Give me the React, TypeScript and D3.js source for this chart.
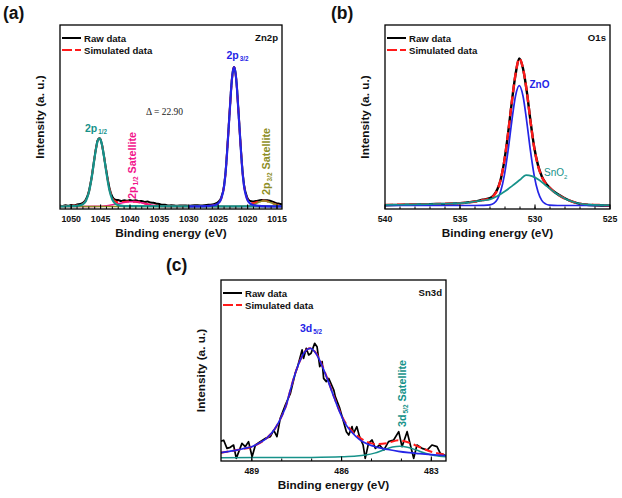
import React from 'react';
import * as d3 from 'd3';

type P = [number, number];

// ---------- Panel (a) Zn2p ----------
const zn2pTicks = [1050, 1045, 1040, 1035, 1030, 1025, 1020, 1015];
const zn2pRaw: P[] = [[1051.9,0.008],[1051.5,0.004],[1051,0.009],[1050.5,0.006],[1050,0.01],[1049.5,0.008],[1049,0.014],[1048.5,0.018],[1048,0.027],[1047.5,0.05],[1047,0.108],[1046.5,0.215],[1046,0.36],[1045.75,0.425],[1045.5,0.474],[1045.2,0.49],[1045,0.48],[1044.75,0.44],[1044.5,0.38],[1044,0.25],[1043.5,0.135],[1043,0.07],[1042.5,0.048],[1042,0.046],[1041.5,0.04],[1041,0.045],[1040.5,0.041],[1040,0.046],[1039.5,0.042],[1039,0.044],[1038.5,0.038],[1038,0.04],[1037.5,0.033],[1037,0.035],[1036.5,0.028],[1036,0.027],[1035.5,0.02],[1035,0.018],[1034.5,0.012],[1034,0.013],[1033.5,0.007],[1033,0.009],[1032,0.006],[1031,0.008],[1030,0.006],[1029,0.009],[1028,0.008],[1027,0.011],[1026,0.014],[1025.5,0.02],[1025,0.032],[1024.5,0.062],[1024,0.15],[1023.75,0.245],[1023.5,0.385],[1023.25,0.55],[1023,0.713],[1022.75,0.87],[1022.5,0.972],[1022.3,1.0],[1022.1,0.97],[1021.85,0.872],[1021.6,0.713],[1021.35,0.55],[1021.1,0.386],[1020.85,0.248],[1020.6,0.155],[1020.1,0.068],[1019.6,0.04],[1019.1,0.036],[1018.6,0.04],[1018.1,0.043],[1017.6,0.046],[1017.1,0.044],[1016.6,0.045],[1016.1,0.04],[1015.6,0.032],[1015.1,0.024],[1014.6,0.02],[1014.15,0.016]];
const zn2pSim: P[] = [[1051.9,0.003],[1051,0.004],[1050,0.005],[1049,0.008],[1048.5,0.012],[1048,0.02],[1047.5,0.043],[1047,0.102],[1046.5,0.212],[1046,0.357],[1045.75,0.422],[1045.5,0.472],[1045.2,0.49],[1045,0.481],[1044.75,0.443],[1044.5,0.384],[1044,0.246],[1043.5,0.127],[1043,0.062],[1042.5,0.036],[1042,0.031],[1041.5,0.032],[1041,0.033],[1040.5,0.035],[1040,0.036],[1039.5,0.035],[1039,0.034],[1038.5,0.031],[1038,0.026],[1037.5,0.021],[1037,0.016],[1036.5,0.012],[1036,0.008],[1035.5,0.005],[1035,0.003],[1034,0.001],[1033,0.001],[1030,0.002],[1028,0.003],[1027,0.004],[1026,0.008],[1025.5,0.012],[1025,0.023],[1024.5,0.056],[1024,0.146],[1023.75,0.241],[1023.5,0.381],[1023.25,0.546],[1023,0.711],[1022.75,0.871],[1022.5,0.971],[1022.3,1.0],[1022.1,0.971],[1021.85,0.871],[1021.6,0.711],[1021.35,0.546],[1021.1,0.382],[1020.85,0.243],[1020.6,0.148],[1020.1,0.058],[1019.6,0.028],[1019.1,0.024],[1018.6,0.029],[1018.1,0.036],[1017.6,0.041],[1017.1,0.042],[1016.6,0.036],[1016.1,0.029],[1015.6,0.021],[1015.1,0.013],[1014.6,0.008],[1014.15,0.005]];
const zn2p12: P[] = [[1051.9,0.001],[1051,0.0015],[1050,0.002],[1049,0.004],[1048.5,0.008],[1048,0.017],[1047.5,0.04],[1047,0.1],[1046.5,0.21],[1046,0.355],[1045.75,0.42],[1045.5,0.47],[1045.2,0.489],[1045,0.479],[1044.75,0.44],[1044.5,0.38],[1044,0.24],[1043.5,0.118],[1043,0.05],[1042.5,0.02],[1042,0.01],[1041,0.003],[1040,0.002],[1030,0.001],[1014.15,0.001]];
const zn2p32: P[] = [[1030,0.001],[1027,0.003],[1026,0.007],[1025.5,0.011],[1025,0.022],[1024.5,0.055],[1024,0.145],[1023.75,0.24],[1023.5,0.38],[1023.25,0.545],[1023,0.71],[1022.75,0.87],[1022.5,0.97],[1022.3,1.0],[1022.1,0.97],[1021.85,0.87],[1021.6,0.71],[1021.35,0.545],[1021.1,0.38],[1020.85,0.24],[1020.6,0.145],[1020.1,0.055],[1019.6,0.022],[1019.1,0.011],[1018.6,0.007],[1017.6,0.003],[1014.15,0.001]];
const zn2p12Sat: P[] = [[1051.9,0],[1046,0.001],[1045,0.002],[1044,0.005],[1043,0.012],[1042,0.02],[1041,0.029],[1040,0.034],[1039.4,0.035],[1039,0.034],[1038,0.026],[1037,0.016],[1036,0.008],[1035,0.003],[1034,0.001],[1030,0],[1014.15,0]];
const zn2p32Sat: P[] = [[1051.9,0],[1022,0],[1021,0.001],[1020,0.003],[1019.5,0.006],[1019,0.013],[1018.5,0.022],[1018,0.032],[1017.5,0.039],[1017.2,0.04],[1017,0.039],[1016.5,0.034],[1016,0.027],[1015.5,0.018],[1015,0.011],[1014.5,0.006],[1014.15,0.004]];

// ---------- Panel (b) O1s ----------
const o1sTicks = [540, 535, 530, 525];
const o1sRaw: P[] = [[540,0.002],[539,0.004],[538,0.006],[537,0.009],[536,0.011],[535,0.016],[534.5,0.021],[534,0.028],[533.5,0.039],[533,0.05],[532.75,0.07],[532.5,0.112],[532.3,0.172],[532.05,0.3],[531.8,0.485],[531.55,0.7],[531.3,0.89],[531.05,1.0],[530.8,0.932],[530.55,0.778],[530.3,0.574],[530.05,0.395],[529.8,0.275],[529.55,0.199],[529.3,0.154],[529.05,0.124],[528.7,0.092],[528.2,0.06],[527.7,0.034],[527.2,0.016],[526.7,0.007],[526,0.002],[525,0.0]];
const o1sSim: P[] = [[540,0.004],[539,0.005],[538,0.007],[537,0.009],[536,0.012],[535,0.016],[534.5,0.02],[534,0.027],[533.5,0.037],[533,0.046],[532.75,0.066],[532.5,0.108],[532.3,0.171],[532.05,0.3],[531.8,0.487],[531.55,0.701],[531.3,0.892],[531.05,1.0],[530.8,0.934],[530.55,0.778],[530.3,0.572],[530.05,0.392],[529.8,0.271],[529.55,0.195],[529.3,0.151],[529.05,0.123],[528.7,0.09],[528.2,0.057],[527.7,0.033],[527.2,0.017],[526.7,0.008],[526,0.004],[525,0.002]];
const o1sZnO: P[] = [[540,0],[534,0],[533.5,0.001],[533,0.004],[532.75,0.014],[532.5,0.043],[532.3,0.093],[532.05,0.202],[531.8,0.37],[531.55,0.571],[531.3,0.745],[531.05,0.815],[530.8,0.745],[530.55,0.571],[530.3,0.37],[530.05,0.202],[529.8,0.093],[529.55,0.035],[529.3,0.011],[529.05,0.003],[528.5,0],[525,0]];
const o1sSnO2: P[] = [[540,0.004],[539,0.005],[538,0.007],[537,0.009],[536,0.012],[535,0.016],[534.5,0.02],[534,0.027],[533.5,0.034],[533,0.042],[532.5,0.065],[532,0.097],[531.5,0.135],[531,0.175],[530.6,0.207],[530.2,0.2],[529.7,0.172],[529.2,0.13],[528.7,0.09],[528.2,0.057],[527.7,0.033],[527.2,0.017],[526.7,0.008],[526,0.004],[525,0.002]];

// ---------- Panel (c) Sn3d ----------
const sn3dTicks = [489, 486, 483];
const sn3dRaw: P[] = [[490.05,0.15],[489.94,0.16],[489.83,0.085],[489.72,0.095],[489.61,0.116],[489.52,-0.006],[489.33,0.131],[489.22,0.101],[489.11,0.147],[488.99,0.009],[488.88,0.116],[488.72,0.147],[488.55,0.177],[488.38,0.192],[488.27,0.253],[488.16,0.192],[488.05,0.36],[487.88,0.482],[487.71,0.588],[487.55,0.77],[487.47,0.832],[487.32,0.985],[487.27,0.908],[487.18,1.0],[487.1,0.939],[487.02,0.954],[486.9,1.045],[486.82,1.015],[486.73,0.832],[486.65,0.878],[486.6,0.725],[486.51,0.695],[486.43,0.725],[486.26,0.619],[486.21,0.558],[486.06,0.451],[485.95,0.345],[485.84,0.238],[485.76,0.207],[485.65,0.284],[485.6,0.223],[485.49,0.284],[485.4,0.192],[485.28,0.116],[485.21,-0.006],[485.1,0.131],[484.98,0.162],[484.87,0.085],[484.73,0.116],[484.59,0.07],[484.43,0.147],[484.26,0.162],[484.09,0.238],[483.98,0.101],[483.81,0.238],[483.59,-0.006],[483.48,0.116],[483.31,0.085],[483.14,0.07],[482.98,0.116],[482.81,0.101],[482.7,0.04],[482.5,0.015]];
const sn3dSim: P[] = [[490.05,0.045],[489.5,0.07],[489,0.1],[488.5,0.18],[488.25,0.255],[488,0.38],[487.85,0.48],[487.7,0.63],[487.55,0.77],[487.4,0.88],[487.25,0.96],[487.05,1.0],[486.85,0.955],[486.65,0.845],[486.45,0.705],[486.25,0.556],[486.05,0.417],[485.85,0.31],[485.65,0.243],[485.4,0.185],[485.1,0.14],[484.8,0.125],[484.45,0.135],[484.1,0.16],[483.75,0.138],[483.4,0.098],[483,0.055],[482.5,0.027]];
const sn3d52: P[] = [[490.05,0.045],[489.75,0.058],[489.5,0.07],[489.25,0.085],[489,0.1],[488.75,0.135],[488.5,0.18],[488.25,0.255],[488,0.38],[487.85,0.48],[487.7,0.63],[487.55,0.77],[487.4,0.88],[487.25,0.96],[487.05,1.0],[486.85,0.95],[486.65,0.84],[486.45,0.7],[486.25,0.55],[486.05,0.41],[485.85,0.3],[485.65,0.23],[485.4,0.165],[485.1,0.12],[484.8,0.095],[484.45,0.075],[484.1,0.058],[483.75,0.046],[483.4,0.037],[483,0.028],[482.5,0.019]];
const sn3dSat: P[] = [[490.05,0],[487,0.003],[486,0.008],[485.5,0.015],[485.2,0.025],[484.9,0.042],[484.6,0.07],[484.3,0.097],[484.05,0.105],[483.8,0.096],[483.5,0.07],[483.2,0.04],[482.9,0.02],[482.5,0.008]];

const FONT = "'Liberation Sans', Arial, Helvetica, sans-serif";
const BLACK = '#000000';
const RED = '#ff1a1a';
const BLUE = '#2424e6';
const TEAL = '#16928a';
const PINK = '#f2168c';
const OLIVE = '#8e8e26';

type Series = { data: P[]; color: string; width: number; dash?: string; curve?: d3.CurveFactory };

type PanelProps = {
  id: string;
  x0: number; x1: number; y0: number; y1: number;
  xDomain: [number, number];
  yDomain: [number, number];
  ticks: number[];
  minor: number[];
  series: Series[];
  corner: string;
};

function Panel(p: PanelProps) {
  const x = d3.scaleLinear().domain(p.xDomain).range([p.x0, p.x1]);
  const y = d3.scaleLinear().domain(p.yDomain).range([p.y1, p.y0]);
  const cx = (p.x0 + p.x1) / 2;
  const cy = (p.y0 + p.y1) / 2;
  return (
    <g>
      <defs>
        <clipPath id={`clip-${p.id}`}>
          <rect x={p.x0} y={p.y0} width={p.x1 - p.x0} height={p.y1 - p.y0} />
        </clipPath>
      </defs>
      <g clipPath={`url(#clip-${p.id})`}>
        {p.series.map((s, i) => {
          const line = d3.line<P>().x(d => x(d[0])).y(d => y(d[1])).curve(s.curve || d3.curveMonotoneX);
          return (
            <path key={i} d={line(s.data) || ''} fill="none" stroke={s.color} strokeWidth={s.width}
              strokeDasharray={s.dash} strokeLinejoin="round" />
          );
        })}
      </g>
      {p.minor.map(t => (
        <line key={'m' + t} x1={x(t)} x2={x(t)} y1={p.y1} y2={p.y1 - 2.5} stroke="#000" strokeWidth={1} />
      ))}
      {p.ticks.map(t => (
        <g key={'t' + t}>
          <line x1={x(t)} x2={x(t)} y1={p.y1} y2={p.y1 - 4.5} stroke="#000" strokeWidth={1.1} />
          <text x={x(t)} y={p.y1 + 12.5} textAnchor="middle" fontSize={8.8} fontWeight="bold" fill="#111">{t}</text>
        </g>
      ))}
      <rect x={p.x0} y={p.y0} width={p.x1 - p.x0} height={p.y1 - p.y0} fill="none" stroke="#000" strokeWidth={1.3} />
      <text x={cx} y={p.y1 + 27.5} textAnchor="middle" fontSize={11.8} fontWeight="bold" fill="#111">Binding energy (eV)</text>
      <text transform={`translate(${p.x0 - 16},${cy}) rotate(-90)`} textAnchor="middle" fontSize={11.8} fontWeight="bold" fill="#111">Intensity (a. u.)</text>
      {/* legend */}
      <line x1={p.x0 + 2} x2={p.x0 + 21} y1={p.y0 + 13} y2={p.y0 + 13} stroke={BLACK} strokeWidth={2} />
      <text x={p.x0 + 24} y={p.y0 + 16.5} fontSize={9.6} fontWeight="bold" fill="#111">Raw data</text>
      <line x1={p.x0 + 2} x2={p.x0 + 21} y1={p.y0 + 25} y2={p.y0 + 25} stroke={RED} strokeWidth={2} strokeDasharray="10,3" />
      <text x={p.x0 + 24} y={p.y0 + 28.5} fontSize={9.6} fontWeight="bold" fill="#111">Simulated data</text>
      <text x={p.x1 - 4} y={p.y0 + 16} textAnchor="end" fontSize={9.6} fontWeight="bold" fill="#111">{p.corner}</text>
    </g>
  );
}

function PeakLabel({ x, y, main, sub, rest, color, size, rotate }:
  { x: number; y: number; main: string; sub: string; rest?: string; color: string; size: number; rotate?: boolean }) {
  return (
    <text x={x} y={y} fill={color} fontSize={size} fontWeight="bold"
      transform={rotate ? `rotate(-90, ${x}, ${y})` : undefined}>
      {main}
      <tspan dx={1} dy={2.5} fontSize={size * 0.6}>{sub}</tspan>
      {rest ? <tspan dy={-2.5} fontSize={size}>{rest}</tspan> : null}
    </text>
  );
}

export default function App() {
  return (
    <svg width={622} height={498} viewBox="0 0 622 498"
      style={{ position: 'absolute', left: 0, top: 0, background: '#fff' }} fontFamily={FONT}>
      <rect x={0} y={0} width={622} height={498} fill="#fff" />
      {/* Panel (a) */}
      <text x={3} y={18.5} fontSize={17.5} fontWeight="bold" fill="#111">(a)</text>
      <Panel id="a" x0={60} x1={282} y0={25} y1={209}
        xDomain={[1051.9, 1014.15]} yDomain={[-0.0179, 1.3011]}
        ticks={zn2pTicks} minor={d3.range(1015, 1052, 1)} corner="Zn2p"
        series={[
          { data: zn2pRaw, color: BLACK, width: 2 },
          { data: zn2pSim, color: RED, width: 2, dash: '7,4' },
          { data: zn2p12Sat, color: PINK, width: 1.6 },
          { data: zn2p32Sat, color: OLIVE, width: 1.6 },
          { data: zn2p12, color: TEAL, width: 2.2 },
          { data: zn2p32, color: BLUE, width: 2.2 },
        ]} />
      <text x={146} y={115} fontFamily="'Liberation Serif', 'Times New Roman', serif" fontSize={9.5} fill="#222">Δ = 22.90</text>
      <PeakLabel x={85} y={131.5} main="2p" sub="1/2" color={TEAL} size={10.5} />
      <PeakLabel x={226.5} y={58.5} main="2p" sub="3/2" color={BLUE} size={10.5} />
      <PeakLabel x={135.5} y={199} main="2p" sub="1/2" rest=" Satellite" color={PINK} size={10.8} rotate />
      <PeakLabel x={269.5} y={195} main="2p" sub="3/2" rest=" Satellite" color={OLIVE} size={10.8} rotate />

      {/* Panel (b) */}
      <text x={331} y={18.5} fontSize={17.5} fontWeight="bold" fill="#111">(b)</text>
      <Panel id="b" x0={385} x1={610} y0={25} y1={209}
        xDomain={[540, 525]} yDomain={[-0.0238, 1.2279]}
        ticks={o1sTicks} minor={d3.range(526, 540, 1)} corner="O1s"
        series={[
          { data: o1sRaw, color: BLACK, width: 2.4 },
          { data: o1sSim, color: RED, width: 2.4, dash: '8,4' },
          { data: o1sZnO, color: BLUE, width: 1.7 },
          { data: o1sSnO2, color: TEAL, width: 1.7 },
        ]} />
      <text x={529.5} y={88} fontSize={10} fontWeight="bold" fill={BLUE}>ZnO</text>
      <text x={544} y={176} fontSize={10} fill={TEAL}>SnO<tspan dy={2.5} fontSize={6}>2</tspan></text>

      {/* Panel (c) */}
      <text x={166} y={271} fontSize={17.5} fontWeight="bold" fill="#111">(c)</text>
      <Panel id="c" x0={221} x1={446} y0={280} y1={461}
        xDomain={[490.03, 482.51]} yDomain={[-0.030, 1.624]}
        ticks={sn3dTicks} minor={d3.range(483, 490, 1)} corner="Sn3d"
        series={[
          { data: sn3dRaw, color: BLACK, width: 1.7, curve: d3.curveLinear },
          { data: sn3dSim, color: RED, width: 2, dash: '8,4' },
          { data: sn3dSat, color: TEAL, width: 1.5 },
          { data: sn3d52, color: BLUE, width: 1.7 },
        ]} />
      <PeakLabel x={300} y={331.5} main="3d" sub="5/2" color={BLUE} size={10.5} />
      <PeakLabel x={405.5} y={427} main="3d" sub="5/2" rest=" Satellite" color={TEAL} size={10.8} rotate />
    </svg>
  );
}
